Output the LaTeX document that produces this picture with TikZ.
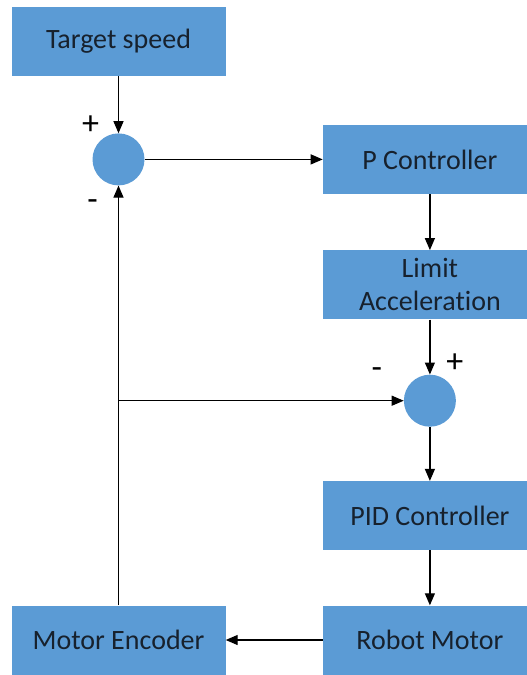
\documentclass[tikz,border=0pt]{standalone}
\usepackage{fontspec}
\setmainfont{Carlito}[Ligatures=NoCommon]
\usetikzlibrary{arrows.meta,positioning,calc}
\definecolor{blockBlue}{HTML}{5B9BD5}
\definecolor{textDark}{HTML}{17212D}

\begin{document}
\begin{tikzpicture}[x=1pt, y=1pt,
  block/.style={rectangle, fill=blockBlue, text=textDark, minimum width=214pt, minimum height=69pt, align=center, inner sep=0pt, font=\fontsize{28}{33}\selectfont},
  sum/.style={circle, fill=blockBlue, minimum size=52pt, inner sep=0pt},
  sign/.style={inner sep=0pt, text=black, font=\fontsize{34}{34}\selectfont},
  wire/.style={-{Triangle[length=12pt, width=10pt]}, draw=black, line width=1.2pt}
]
\clip (0,0) rectangle (527,-675);
\node[block] (target) at (118.5,-41.5) {Target speed};
\node[sum, below=57pt of target] (sum1) {};
\node[block, right=178pt of sum1] (pctrl) {P Controller};
\node[block, below=56pt of pctrl] (limit) {Limit\\Acceleration};
\node[sum, below=55pt of limit] (sum2) {};
\node[block, below=54pt of sum2] (pid) {PID Controller};
\node[block, below=55pt of pid] (motor) {Robot Motor};
\node[block, left=97pt of motor] (encoder) {Motor Encoder};
\node[sign] (plus1) at ($(sum1.center)+(-28,34)$) {+};
\node[sign] (minus1) at ($(sum1.center)+(-26,-46)$) {-};
\node[sign] (minus2) at ($(sum2.center)+(-53,28)$) {-};
\node[sign] (plus2) at ($(sum2.center)+(25,38)$) {+};
\coordinate (tap) at (encoder.north |- sum2.west);
\draw[wire] (target) -- (sum1);
\draw[wire] (sum1) -- (pctrl);
\draw[wire] (pctrl) -- (limit);
\draw[wire] (limit) -- (sum2);
\draw[wire] (sum2) -- (pid);
\draw[wire] (pid) -- (motor);
\draw[wire] (motor) -- (encoder);
\draw[wire] (encoder.north) -- (encoder.north |- sum1.south);
\draw[wire] (tap) -- (sum2);
\end{tikzpicture}
\end{document}
